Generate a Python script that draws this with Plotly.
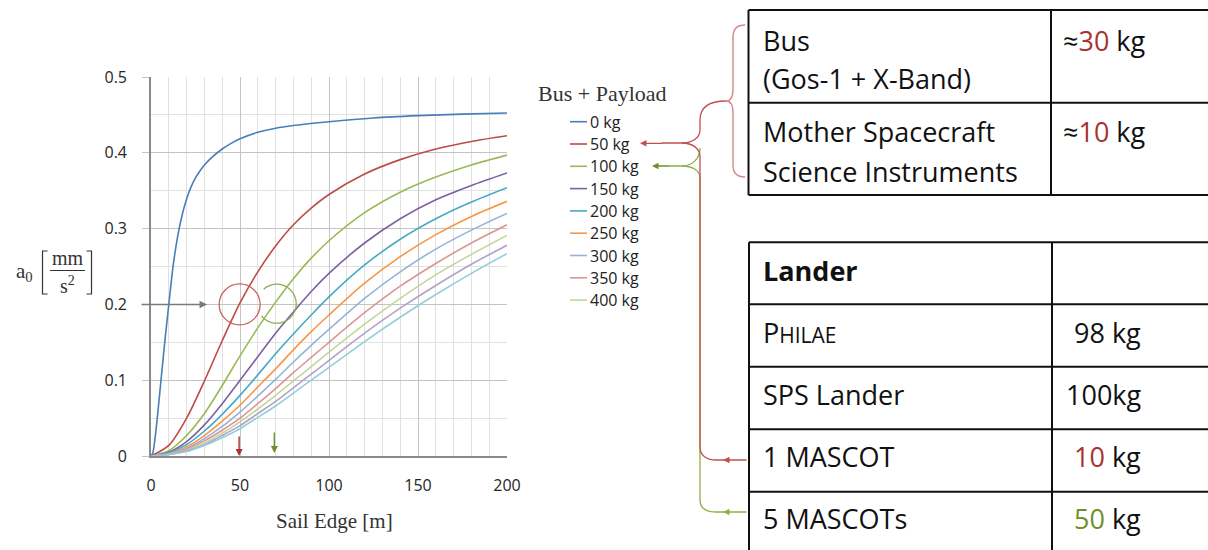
import math
import plotly.graph_objects as go

# ---------------- data ----------------
payload_kg = [0, 50, 100, 150, 200, 250, 300, 350, 400, 450, 500]
legend_count = 9  # the legend in the picture lists 0 ... 400 kg

x_fast = [0, 1, 2.5, 5, 7.5, 10, 12.5, 15, 17.5, 20, 22.5, 25, 27.5, 30, 35, 40, 45, 50, 60, 70, 80,
          100, 125, 150, 175, 200]
a_0kg = [0, 0.004, 0.028, 0.085, 0.145, 0.200, 0.252, 0.290, 0.318, 0.339, 0.355, 0.367, 0.376, 0.384,
         0.3955, 0.405, 0.4125, 0.4185, 0.427, 0.4325, 0.436, 0.441, 0.446, 0.449, 0.451, 0.4526]

x_edge = [0, 10, 20, 30, 40, 50, 60, 70, 80, 90, 100, 120, 140, 160, 180, 200]
a_50kg = [0, 0.014, 0.050, 0.099, 0.152, 0.202, 0.243, 0.277, 0.305, 0.327, 0.345, 0.372, 0.391, 0.405, 0.415, 0.4225]
a_100kg = [0, 0.007, 0.027, 0.056, 0.093, 0.132, 0.169, 0.203, 0.234, 0.261, 0.284, 0.321, 0.348, 0.368, 0.384, 0.397]
a_150kg = [0, 0.005, 0.019, 0.041, 0.069, 0.100, 0.131, 0.162, 0.190, 0.217, 0.241, 0.281, 0.313, 0.338, 0.357, 0.3735]
a_200kg = [0, 0.004, 0.015, 0.033, 0.055, 0.080, 0.107, 0.135, 0.161, 0.186, 0.210, 0.252, 0.286, 0.313, 0.335, 0.354]
a_250kg = [0, 0.003, 0.012, 0.027, 0.046, 0.067, 0.091, 0.115, 0.140, 0.164, 0.186, 0.228, 0.263, 0.292, 0.316, 0.336]
a_300kg = [0, 0.003, 0.010, 0.023, 0.039, 0.058, 0.079, 0.101, 0.124, 0.146, 0.167, 0.208, 0.243, 0.273, 0.298, 0.320]
a_350kg = [0, 0.002, 0.009, 0.020, 0.034, 0.050, 0.069, 0.089, 0.110, 0.130, 0.150, 0.189, 0.224, 0.254, 0.281, 0.305]
a_400kg = [0, 0.002, 0.008, 0.017, 0.030, 0.045, 0.062, 0.080, 0.099, 0.118, 0.137, 0.174, 0.208, 0.239, 0.266, 0.291]
a_450kg = [0, 0.002, 0.007, 0.015, 0.027, 0.040, 0.056, 0.072, 0.090, 0.108, 0.126, 0.162, 0.195, 0.225, 0.253, 0.278]
a_500kg = [0, 0.002, 0.006, 0.014, 0.024, 0.036, 0.051, 0.066, 0.083, 0.100, 0.117, 0.151, 0.183, 0.213, 0.241, 0.267]

series_x = [x_fast] + [x_edge] * 10
series_y = [a_0kg, a_50kg, a_100kg, a_150kg, a_200kg, a_250kg, a_300kg, a_350kg, a_400kg, a_450kg, a_500kg]
colors = ["#4a7ebb", "#be4b48", "#98b954", "#7d60a0", "#46aac5", "#f79646",
          "#95b3d7", "#d99694", "#c3d69b", "#b3a2c7", "#93cddd"]

x_ticks = [0, 50, 100, 150, 200]
y_ticks = [0, 0.1, 0.2, 0.3, 0.4, 0.5]

table1_rows = [["Bus", "(Gos-1 + X-Band)"], ["Mother Spacecraft", "Science Instruments"]]
table1_vals = ["30", "10"]
table2_rows = ["Lander", "PHILAE", "SPS Lander", "1 MASCOT", "5 MASCOTs"]
table2_vals = ["", "98 kg", "100kg", "10", "50"]

# ---------------- layout helpers ----------------
W, H = 1208, 550
ML, MR, MT, MB = 151, 701, 77, 94
PW = W - ML - MR
PH = H - MT - MB


def px(X):
    return (X - ML) / PW


def py(Y):
    return (H - MB - Y) / PH


def path(*segs):
    out = []
    for seg in segs:
        cmd, pts = seg[0], seg[1:]
        out.append(cmd + " " + " ".join(f"{px(x):.5f},{py(y):.5f}" for x, y in pts))
    return " ".join(out)


def label(text, X, Y, font, xanchor="center"):
    return dict(text=text, x=px(X), y=py(Y), xref="paper", yref="paper", showarrow=False,
                xanchor=xanchor, yanchor="middle", font=font)


RED = "#c0504d"
RED_DARK = "#a8332f"
GREEN = "#8db04a"
GREEN_DARK = "#6f8f2c"
SERIF = "Liberation Serif"
SANS = "Open Sans"

fig = go.Figure()
for i, kg in enumerate(payload_kg):
    fig.add_trace(go.Scatter(
        x=series_x[i], y=series_y[i], mode="lines", name=f"{kg} kg",
        line=dict(color=colors[i], width=1.6, shape="spline", smoothing=0.8),
        showlegend=False, hoverinfo="skip"))

shapes = []
ann = []

# ---- manual legend ----
ann.append(label("Bus + Payload", 602, 93, dict(family=SERIF, size=22, color="#333")))
for i in range(legend_count):
    yy = 121.7 + 22.3 * i
    shapes.append(dict(type="line", xref="paper", yref="paper", x0=px(570), x1=px(587),
                       y0=py(yy), y1=py(yy), line=dict(color=colors[i], width=1.6)))
    ann.append(label(f"{payload_kg[i]} kg", 588, yy, dict(family=SANS, size=16, color="#222"),
                     xanchor="left"))

# ---- axis titles ----
ann.append(label("Sail Edge [m]", 334, 521, dict(family=SERIF, size=21, color="#333")))
ann.append(label("a<sub>0</sub>", 24, 272, dict(family=SERIF, size=21, color="#333")))
ann.append(label("mm", 67.5, 258, dict(family=SERIF, size=20, color="#333")))
ann.append(label("s<sup>2</sup>", 67.5, 285, dict(family=SERIF, size=20, color="#333")))
shapes.append(dict(type="line", xref="paper", yref="paper", x0=px(50), x1=px(85),
                   y0=py(270.5), y1=py(270.5), line=dict(color="#333", width=1)))
shapes.append(dict(type="path", xref="paper", yref="paper",
                   path=path(("M", (47.5, 251)), ("L", (42.5, 251)), ("L", (42.5, 294)), ("L", (47.5, 294))),
                   line=dict(color="#333", width=1.2)))
shapes.append(dict(type="path", xref="paper", yref="paper",
                   path=path(("M", (86.5, 251)), ("L", (91.5, 251)), ("L", (91.5, 294)), ("L", (86.5, 294))),
                   line=dict(color="#333", width=1.2)))

# ---- chart annotations: arrows and circles ----
ann.append(dict(x=31.5, y=0.2, xref="x", yref="y", text="", showarrow=True, ax=-67, ay=0,
                arrowhead=2, arrowsize=1, arrowwidth=1.5, arrowcolor="#7a7a7a"))
ann.append(dict(x=49.5, y=0.0, xref="x", yref="y", text="", showarrow=True, ax=0, ay=-21,
                arrowhead=2, arrowsize=1, arrowwidth=1.4, arrowcolor=RED_DARK))
ann.append(dict(x=69.3, y=0.004, xref="x", yref="y", text="", showarrow=True, ax=0, ay=-22,
                arrowhead=2, arrowsize=1, arrowwidth=1.4, arrowcolor=GREEN_DARK))
shapes.append(dict(type="circle", xref="x", yref="y", x0=38.3, x1=61.3, y0=0.2 - 0.027,
                   y1=0.2 + 0.027, line=dict(color="#c46461", width=1.3)))
cx, cy, r = 276.7, 303.7, 19.5
arc = []
for k in range(0, 56):
    th = math.radians(132 - k * (273 / 55))
    arc.append((cx + r * math.cos(th), cy - r * math.sin(th)))
shapes.append(dict(type="path", xref="paper", yref="paper",
                   path=path(("M", arc[0]), *[("L", p) for p in arc[1:]]),
                   line=dict(color="#8fae55", width=1.3)))

# ---- connector lines ----
shapes.append(dict(type="path", xref="paper", yref="paper",
                   path=path(("M", (700, 148)), ("C", (700, 159), (692, 166), (682, 166)), ("L", (668, 166))),
                   line=dict(color=GREEN, width=1.3)))
shapes.append(dict(type="path", xref="paper", yref="paper",
                   path=path(("M", (682, 166)), ("C", (692, 166), (700, 170), (700, 178)), ("L", (700, 500)),
                             ("C", (700, 508), (706, 512), (716, 512)), ("L", (726, 512))),
                   line=dict(color=GREEN, width=1.3)))
shapes.append(dict(type="path", xref="paper", yref="paper",
                   path=path(("M", (745, 25)), ("Q", (733, 25), (733, 37)), ("L", (733, 89)),
                             ("Q", (733, 101), (726, 101)), ("Q", (733, 101), (733, 113)),
                             ("L", (733, 165)), ("Q", (733, 177), (745, 177))),
                   line=dict(color="#d48a88", width=1.4)))
shapes.append(dict(type="path", xref="paper", yref="paper",
                   path=path(("M", (726, 101)), ("C", (710, 101), (700, 106), (700, 120)), ("L", (700, 130)),
                             ("C", (700, 138), (692, 143), (682, 143)), ("L", (662, 143))),
                   line=dict(color=RED, width=1.3)))
shapes.append(dict(type="path", xref="paper", yref="paper",
                   path=path(("M", (682, 143)), ("C", (692, 143), (700, 148), (700, 157)), ("L", (700, 447)),
                             ("C", (700, 455), (706, 460), (716, 460)), ("L", (726, 460))),
                   line=dict(color=RED, width=1.3)))
for (tx, ty, dx, col) in [(640, 143.3, 24, RED), (652, 166, 18, GREEN_DARK),
                          (723, 460, 25, RED), (723, 512, 25, GREEN)]:
    ann.append(dict(x=px(tx), y=py(ty), xref="paper", yref="paper", text="", showarrow=True,
                    ax=dx, ay=0, arrowhead=2, arrowsize=1, arrowwidth=1.3, arrowcolor=col))

# ---- tables ----
TBL = dict(color="#111", width=2)
T1L, T1C, T1R = 748.5, 1051, 1230
for yy in [10, 102.7, 195]:
    shapes.append(dict(type="line", xref="paper", yref="paper", x0=px(T1L), x1=px(T1R),
                       y0=py(yy), y1=py(yy), line=TBL))
for xx in [T1L, T1C]:
    shapes.append(dict(type="line", xref="paper", yref="paper", x0=px(xx), x1=px(xx),
                       y0=py(10), y1=py(195), line=TBL))
FT = dict(family=SANS, size=27, color="#111")
t1_y = [(40, 78), (131, 171)]
for (lines, (ya, yb)) in zip(table1_rows, t1_y):
    ann.append(label(lines[0], 761, ya, FT, xanchor="left"))
    ann.append(label(lines[1], 761, yb, FT, xanchor="left"))
for v, (ya, _) in zip(table1_vals, t1_y):
    ann.append(label(f"≈<span style='color:{RED_DARK}'>{v}</span> kg", 1061, ya, FT, xanchor="left"))

T2L, T2C = 749, 1052
t2_lines = [242.3, 304.3, 366.7, 429.2, 491.7, 554]
for yy in t2_lines:
    shapes.append(dict(type="line", xref="paper", yref="paper", x0=px(T2L), x1=px(T1R),
                       y0=py(yy), y1=py(yy), line=TBL))
for xx in [T2L, T2C]:
    shapes.append(dict(type="line", xref="paper", yref="paper", x0=px(xx), x1=px(xx),
                       y0=py(242.3), y1=py(560), line=TBL))
val_colors = ["", "", "", RED_DARK, GREEN_DARK]
val_x = [1072, 1072, 1064, 1072, 1072]
row_y = [270, 332, 394, 456, 518]
for i, name in enumerate(table2_rows):
    yc = row_y[i]
    if i == 0:
        txt = f"<b>{name}</b>"
    elif name == "PHILAE":
        txt = "P<span style='font-size:21px'>HILAE</span>"
    else:
        txt = name
    ann.append(label(txt, 761, yc, FT, xanchor="left"))
    v = table2_vals[i]
    if v:
        vt = f"<span style='color:{val_colors[i]}'>{v}</span> kg" if val_colors[i] else v
        ann.append(label(vt, val_x[i], yc, FT, xanchor="left"))

fig.update_layout(
    width=W, height=H, autosize=False,
    margin=dict(l=ML, r=MR, t=MT, b=MB, pad=0),
    paper_bgcolor="white", plot_bgcolor="white",
    showlegend=False,
    shapes=shapes, annotations=ann,
    xaxis=dict(range=[0, 200], tickvals=x_ticks, ticktext=[str(v) for v in x_ticks],
               showgrid=True, gridcolor="#c4c4c4", gridwidth=1.3,
               minor=dict(dtick=10, tick0=0, showgrid=True, gridcolor="#e1e1e1", gridwidth=1),
               showline=True, linecolor="#8a8a8a", linewidth=1.6, zeroline=False,
               ticks="outside", ticklen=0, tickcolor="rgba(0,0,0,0)", ticklabelstandoff=14,
               tickfont=dict(family=SANS, size=16, color="#262626"), fixedrange=True),
    yaxis=dict(range=[0, 0.5], tickvals=y_ticks, ticktext=["0", "0.1", "0.2", "0.3", "0.4", "0.5"],
               showgrid=True, gridcolor="#c4c4c4", gridwidth=1.3,
               minor=dict(dtick=0.05, tick0=0, showgrid=True, gridcolor="#e1e1e1", gridwidth=1),
               showline=True, linecolor="#8a8a8a", linewidth=1.6, zeroline=False,
               ticks="outside", ticklen=7, tickcolor="#c4c4c4", ticklabelstandoff=12,
               tickfont=dict(family=SANS, size=16, color="#262626"), fixedrange=True),
)

fig.write_html("out.html", config={"displayModeBar": False},
               post_script="document.body.style.margin='0px';")
